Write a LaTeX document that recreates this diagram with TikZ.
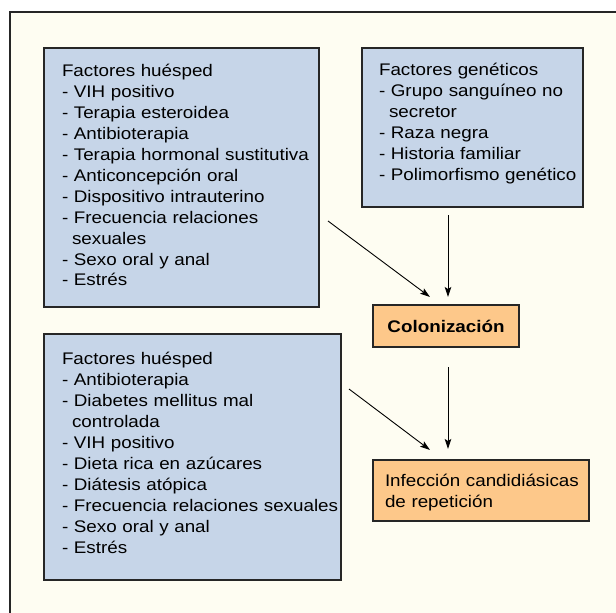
\documentclass[tikz,border=0pt]{standalone}
\usepackage{fontspec}
\setmainfont[FakeStretch=1.12]{Liberation Sans}
\usetikzlibrary{arrows.meta,calc,backgrounds}
\definecolor{cream}{HTML}{FEFDF2}
\definecolor{boxblue}{HTML}{C6D5E8}
\definecolor{boxorange}{HTML}{FDC88A}
\definecolor{edge}{HTML}{262626}
\begin{document}
\begin{tikzpicture}[x=1pt,y=-1pt,
  box/.style={draw=edge, line width=1.1pt, inner sep=0pt, outer sep=0pt},
  bluebox/.style={box, fill=boxblue, anchor=north west},
  orangebox/.style={box, fill=boxorange},
  txt/.style={anchor=base west, inner sep=0pt, outer sep=0pt, text width=300pt, align=left, text=black,
    font=\fontsize{16.8pt}{21pt}\selectfont},
  conn/.style={draw=black, line width=0.9pt, -{Stealth[length=10pt,width=6.5pt,inset=2pt]}}]
\useasboundingbox (0,0) rectangle (616,613);
\fill[white] (0,0) rectangle (616,613);
\fill[cream] (10,12) rectangle (616,613);
\draw[edge, line width=1.1pt] (10,614) -- (10,12) -- (617,12);

% boxes
\node[bluebox, minimum width=275pt, minimum height=259pt] (boxA) at (44,48) {};
\node[bluebox, minimum width=221pt, minimum height=159pt] (boxB) at (362,48) {};
\node[bluebox, minimum width=297pt, minimum height=246pt] (boxD) at (44,334) {};
\node[orangebox, minimum width=146pt, minimum height=42pt] (col) at (446,326)
  {\fontsize{16.8pt}{21pt}\selectfont\bfseries Colonización};
\node[orangebox, anchor=north west, minimum width=216pt, minimum height=61pt] (boxE) at (373,460) {};

% shadow of Colonización
\begin{scope}[on background layer]
  \foreach \i in {1,...,6}{
    \fill[black, opacity=0.055, rounded corners=\i pt]
      ($(col.north west)+(4-\i*0.8,4-\i*0.8)$) rectangle ($(col.south east)+(4+\i*0.8,4+\i*0.8)$);
  }
\end{scope}

% texts
\node[txt] (tA) at (62,76) {Factores huésped\\
- VIH positivo\\
- Terapia esteroidea\\
- Antibioterapia\\
- Terapia hormonal sustitutiva\\
- Anticoncepción oral\\
- Dispositivo intrauterino\\
- Frecuencia relaciones\\
\hspace*{10pt}sexuales\\
- Sexo oral y anal\\
- Estrés};
\node[txt] (tB) at (379,75) {Factores genéticos\\
- Grupo sanguíneo no\\
\hspace*{10pt}secretor\\
- Raza negra\\
- Historia familiar\\
- Polimorfismo genético};
\node[txt] (tD) at (62,364) {Factores huésped\\
- Antibioterapia\\
- Diabetes mellitus mal\\
\hspace*{10pt}controlada\\
- VIH positivo\\
- Dieta rica en azúcares\\
- Diátesis atópica\\
- Frecuencia relaciones sexuales\\
- Sexo oral y anal\\
- Estrés};
\node[txt] (tE) at (385,486) {Infección candidiásicas\\
de repetición};

% connectors
\coordinate (a1) at (328,221); \coordinate (a2) at (430,297);
\coordinate (b1) at (448,215); \coordinate (b2) at (448,297);
\coordinate (d1) at (349,389); \coordinate (d2) at (430,450);
\coordinate (c1) at (448,367); \coordinate (c2) at (448,449);
\draw[conn] (a1) -- (a2);
\draw[conn] (b1) -- (b2);
\draw[conn] (d1) -- (d2);
\draw[conn] (c1) -- (c2);
\end{tikzpicture}
\end{document}
